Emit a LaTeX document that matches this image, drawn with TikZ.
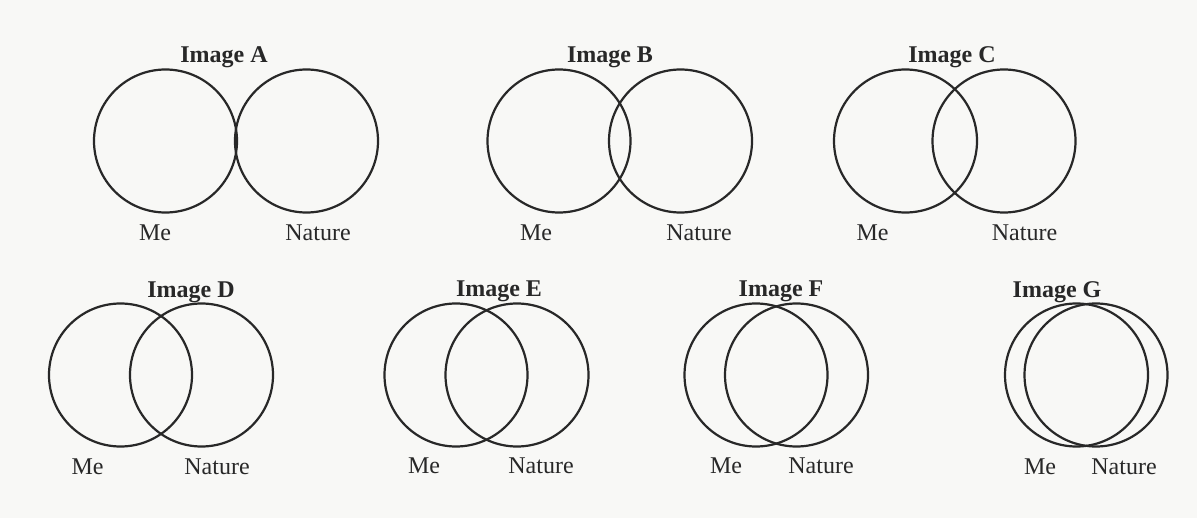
\documentclass[tikz,border=0pt]{standalone}
\usepackage{fontspec}
\setmainfont{Liberation Serif}
\usetikzlibrary{positioning}
\definecolor{paper}{RGB}{248,248,246}
\definecolor{ink}{RGB}{40,40,40}
\tikzset{
  ring/.style={circle, draw=ink, line width=1.1pt, minimum size=71.5pt, inner sep=0pt},
  title/.style={anchor=base, inner sep=0pt, text=ink, font=\fontsize{12}{14}\selectfont\bfseries},
  lbl/.style={anchor=base, inner sep=0pt, text=ink, font=\fontsize{12}{14}\selectfont}
}
\begin{document}
\begin{tikzpicture}[x=0.5pt,y=-0.5pt]
  \fill[paper] (0,0) rectangle (1197,518);
  \useasboundingbox (0,0) rectangle (1197,518);
  % top row
  \node[title] (titleA) at (224,63) {Image A};
  \node[ring] (meA) at (165.5,141) {}; \node[ring] (natA) at (306.5,141) {};
  \node[lbl] (meLabA) at (155,240) {Me}; \node[lbl] (natLabA) at (318,240) {Nature};
  \node[title] (titleB) at (610,63) {Image B};
  \node[ring] (meB) at (559,141) {}; \node[ring] (natB) at (680.5,141) {};
  \node[lbl] (meLabB) at (536,240) {Me}; \node[lbl] (natLabB) at (699,240) {Nature};
  \node[title] (titleC) at (952,63) {Image C};
  \node[ring] (meC) at (905.5,141) {}; \node[ring] (natC) at (1004,141) {};
  \node[lbl] (meLabC) at (872.5,240) {Me}; \node[lbl] (natLabC) at (1024.5,240) {Nature};
  % bottom row
  \node[title] (titleD) at (191,297) {Image D};
  \node[ring] (meD) at (120.5,375) {}; \node[ring] (natD) at (201.5,375) {};
  \node[lbl] (meLabD) at (87.5,474) {Me}; \node[lbl] (natLabD) at (217,474) {Nature};
  \node[title] (titleE) at (499,296) {Image E};
  \node[ring] (meE) at (456,375) {}; \node[ring] (natE) at (517,375) {};
  \node[lbl] (meLabE) at (424,473) {Me}; \node[lbl] (natLabE) at (541,473) {Nature};
  \node[title] (titleF) at (781,296) {Image F};
  \node[ring] (meF) at (756,375) {}; \node[ring] (natF) at (796.5,375) {};
  \node[lbl] (meLabF) at (726,473) {Me}; \node[lbl] (natLabF) at (821,473) {Nature};
  \node[title] (titleG) at (1057,297) {Image G};
  \node[ring] (meG) at (1076.5,375) {}; \node[ring] (natG) at (1096,375) {};
  \node[lbl] (meLabG) at (1040,474) {Me}; \node[lbl] (natLabG) at (1124,474) {Nature};
\end{tikzpicture}
\end{document}
